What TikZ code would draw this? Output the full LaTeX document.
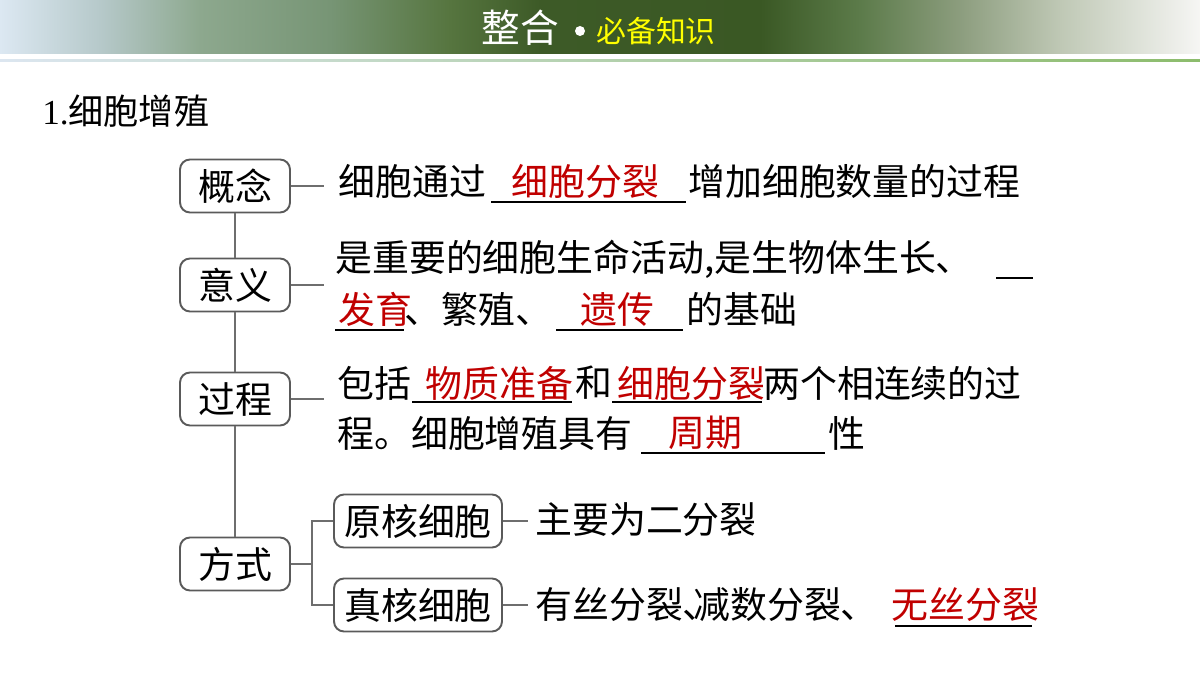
\documentclass[tikz,border=0pt]{standalone}
\usepackage{fontspec}
\setmainfont{Liberation Serif}
\newfontfamily\cjk{Noto Sans CJK SC}
\usetikzlibrary{positioning}

\definecolor{ansred}{RGB}{192,0,0}
\definecolor{boxgray}{RGB}{90,90,90}
\definecolor{linegray}{RGB}{110,110,110}
\definecolor{titleyellow}{RGB}{255,255,0}
\definecolor{hd0}{HTML}{DCE8F2}
\definecolor{hd1}{HTML}{B6C9CA}
\definecolor{hd2}{HTML}{8DA88E}
\definecolor{hd3}{HTML}{779575}
\definecolor{hd4}{HTML}{56753F}
\definecolor{hd5}{HTML}{3D5A27}
\definecolor{hd6}{HTML}{3A5824}
\definecolor{hd7}{HTML}{5C7B4A}
\definecolor{hd8}{HTML}{8C9D7E}
\definecolor{hd9}{HTML}{BFC8B5}
\definecolor{hd10}{HTML}{F6F6F4}
\definecolor{rulelight}{HTML}{DCE6F0}
\definecolor{rulegreen}{HTML}{8CBC6C}

\pgfdeclarehorizontalshading{banner}{100bp}{color(0bp)=(hd0); color(25bp)=(hd0);
  color(29.17bp)=(hd1); color(33.33bp)=(hd2); color(38.75bp)=(hd3); color(43.75bp)=(hd4);
  color(47.5bp)=(hd5); color(56.67bp)=(hd6); color(60.83bp)=(hd7); color(65bp)=(hd8);
  color(69.17bp)=(hd9); color(75bp)=(hd10); color(100bp)=(hd10)}

\begin{document}
\begin{tikzpicture}[
    x=0.02cm, y=-0.02cm,
    box/.style={draw=boxgray, line width=1.1pt, rounded corners=0.2cm, minimum width=2.2cm,
      minimum height=1.06cm, inner sep=0pt, font=\cjk\fontsize{21}{21}\selectfont},
    widebox/.style={box, minimum width=3.36cm},
    txt/.style={anchor=west, inner sep=0pt, font=\cjk\fontsize{21}{21}\selectfont},
    ans/.style={txt, text=ansred},
    link/.style={draw=linegray, line width=1.1pt},
    blank/.style={line width=1.1pt}
]
\useasboundingbox (0,0) rectangle (1200,675);

% banner
\shade[shading=banner] (0,0) rectangle (1200,54);
\shade[left color=rulelight, right color=rulegreen] (0,59.5) rectangle (1200,62);
\node[anchor=west, inner sep=0pt, text=white, font=\cjk\fontsize{22}{22}\selectfont] (hdmain) at (481,28) {整合};
\fill[white] (580,31) circle (5);
\node[anchor=west, inner sep=0pt, text=titleyellow, font=\cjk\fontsize{17}{17}\selectfont] (hdsub) at (596,31) {必备知识};

\node[txt, font=\fontsize{20}{20}\selectfont] (heading) at (42,111) {1.{\cjk 细胞增殖}};

% left column
\node[box] (concept) at (235,186) {概念};
\node[box] (meaning) at (235,285) {意义};
\node[box] (process) at (235,399) {过程};
\node[box] (mode) at (235,564) {方式};
\node[widebox] (prok) at (418,521) {原核细胞};
\node[widebox] (euk) at (418,605) {真核细胞};

\draw[link] (concept) -- (meaning) -- (process) -- (mode);
\coordinate (s1) at (324,186);
\coordinate (s2) at (324,285);
\coordinate (s3) at (324,399);
\coordinate (fork) at (312,564);
\coordinate (s4) at (528,521);
\coordinate (s5) at (528,605);
\draw[link] (concept.east) -- (s1);
\draw[link] (meaning.east) -- (s2);
\draw[link] (process.east) -- (s3);
\draw[link] (mode.east) -- (fork);
\draw[link] (fork) |- (prok.west);
\draw[link] (fork) |- (euk.west);
\draw[link] (prok.east) -- (s4);
\draw[link] (euk.east) -- (s5);

% concept
\node[txt] (c1) at (338,181) {细胞通过};
\node[ans] (c2) at (511,181) {细胞分裂};
\node[txt] (c3) at (688,181) {增加细胞数量的过程};
\draw[blank] (491,202) -- (686,202);

% meaning
\node[txt] (m1) at (335,259) {是重要的细胞生命活动,是生物体生长、};
\draw[blank] (996,278) -- (1033,278);
\node[ans] (m2) at (338,309) {发育};
\draw[blank] (335,330) -- (404,330);
\node[txt] (m3) at (404,309) {、繁殖、};
\draw[blank] (556,330) -- (683,330);
\node[ans] (m4) at (580,309) {遗传};
\node[txt] (m5) at (686,309) {的基础};

% process
\node[txt] (p1) at (337,383) {包括};
\node[ans] (p2) at (425,383) {物质准备};
\draw[blank] (412,402) -- (572,402);
\node[txt] (p3) at (575,383) {和};
\node[ans] (p4) at (617,383) {细胞分裂};
\draw[blank] (612,402) -- (762,402);
\node[txt] (p5) at (763,383) {两个相连续的过};
\node[txt] (p6) at (337,433) {程。细胞增殖具有};
\node[ans] (p7) at (668,433) {周期};
\draw[blank] (641,453) -- (825,453);
\node[txt] (p8) at (828,433) {性};

% mode
\node[txt] (d1) at (535,520) {主要为二分裂};
\node[txt] (d2) at (535,605) {有丝分裂、};
\node[txt] (d3) at (693,605) {减数分裂、};
\node[ans] (d4) at (891,605) {无丝分裂};
\draw[blank] (895,626) -- (1032,626);
\end{tikzpicture}
\end{document}
